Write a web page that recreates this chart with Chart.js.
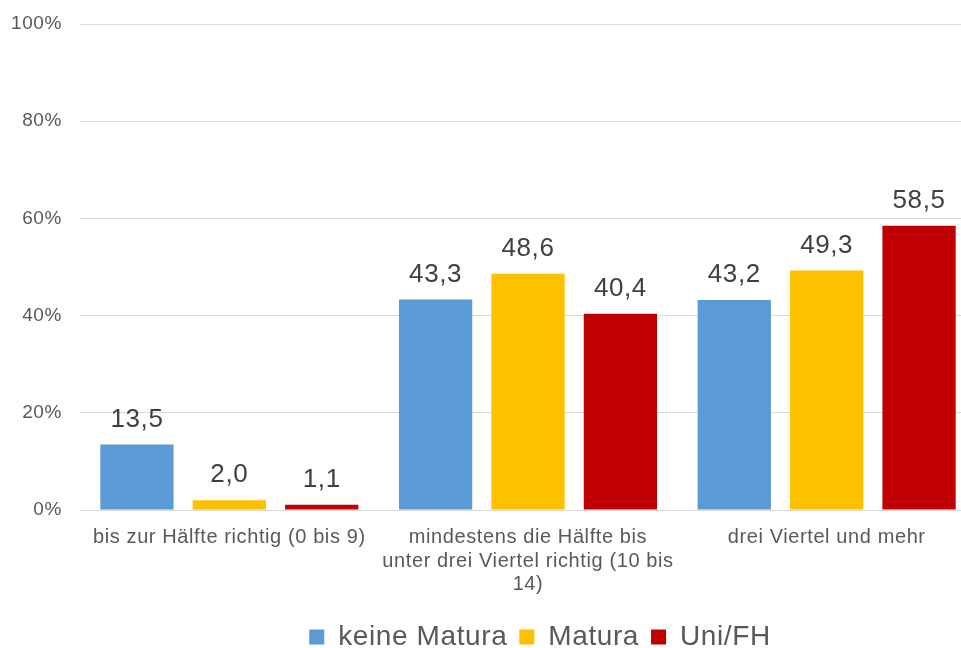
<!DOCTYPE html>
<html>
<head>
<meta charset="utf-8">
<script src="https://cdn.jsdelivr.net/npm/chart.js@4/dist/chart.umd.min.js"></script>
<style>
  html, body { margin: 0; padding: 0; background: #fff; overflow: hidden; }
  #wrap { width: 976px; height: 648px; }
</style>
</head>
<body>
<div id="wrap"><canvas id="chart"></canvas></div>
<script>
"use strict"

const categories = [
    'bis zur Hälfte richtig (0 bis 9)',
    ['mindestens die Hälfte bis', 'unter drei Viertel richtig (10 bis', '14)'],
    'drei Viertel und mehr'
];
const seriesNames = ['keine Matura', 'Matura', 'Uni/FH'];
const keineMatura = [13.5, 43.3, 43.2];
const matura = [2.0, 48.6, 49.3];
const uniFh = [1.1, 40.4, 58.5];
const yTicks = [0, 20, 40, 60, 80, 100];

const seriesColors = ['#5B9BD5', '#FFC000', '#C00000'];
const fontFamily = '"Liberation Sans", Arial, sans-serif';

/**
 * The reference text is a little wider than Arial, so space the letters out a bit.
 */
const wideText = {
    id: 'wideText',
    beforeUpdate(chart) { chart.ctx.letterSpacing = '0.6px'; },
    beforeDraw(chart) { chart.ctx.letterSpacing = '0.6px'; }
};

/**
 * The legend in the reference sits a bit right of the canvas centre.
 */
const legendShift = {
    id: 'legendShift',
    afterLayout(chart) {
        if (!chart.legend) return;
        chart.legend.left += 52;
        chart.legend.right += 52;
    }
};

/**
 * Draws the value above each bar, with a decimal comma.
 */
const valueLabels = {
    id: 'valueLabels',
    afterDatasetsDraw(chart) {
        const ctx = chart.ctx;
        ctx.save();
        ctx.font = '26px ' + fontFamily;
        ctx.fillStyle = '#404040';
        ctx.textAlign = 'center';
        ctx.textBaseline = 'middle';
        chart.data.datasets.forEach((ds, i) => {
            chart.getDatasetMeta(i).data.forEach((bar, j) => {
                const text = ds.data[j].toFixed(1).replace('.', ',');
                ctx.fillText(text, bar.x, bar.y - 25);
            });
        });
        ctx.restore();
    }
};

const datasets = [keineMatura, matura, uniFh].map((values, i) => ({
    label: seriesNames[i],
    data: values,
    backgroundColor: seriesColors[i],
    borderWidth: 0,
    categoryPercentage: 0.928,
    barPercentage: 0.793
}));

new Chart(document.getElementById('chart'), {
    type: 'bar',
    data: { labels: categories, datasets: datasets },
    plugins: [wideText, legendShift, valueLabels],
    options: {
        responsive: true,
        maintainAspectRatio: false,
        animation: false,
        // legend sits right on the bottom edge in the reference
        layout: { padding: { top: 0, left: 0, right: 0, bottom: -13 } },
        plugins: {
            tooltip: { enabled: false },
            legend: {
                position: 'bottom',
                labels: {
                    color: '#595959',
                    font: { size: 28, family: fontFamily },
                    boxWidth: 15,
                    boxHeight: 15,
                    padding: 12
                }
            }
        },
        scales: {
            x: {
                afterFit: axis => { axis.height = 101; },
                grid: { display: false },
                border: { color: '#d9d9d9' },
                ticks: {
                    color: '#595959',
                    font: { size: 20, family: fontFamily, lineHeight: 1.17 },
                    maxRotation: 0,
                    autoSkip: false,
                    padding: 8
                }
            },
            y: {
                min: 0,
                max: 100,
                afterBuildTicks: axis => { axis.ticks = yTicks.map(v => ({ value: v })); },
                afterFit: axis => {
                    axis.width = 80;
                    axis.paddingTop = 24;
                },
                grid: { color: '#d9d9d9', drawTicks: false },
                border: { display: false },
                ticks: {
                    color: '#595959',
                    font: { size: 19, family: fontFamily },
                    padding: 18,
                    callback: v => v + '%'
                }
            }
        }
    }
});
</script>
</body>
</html>
